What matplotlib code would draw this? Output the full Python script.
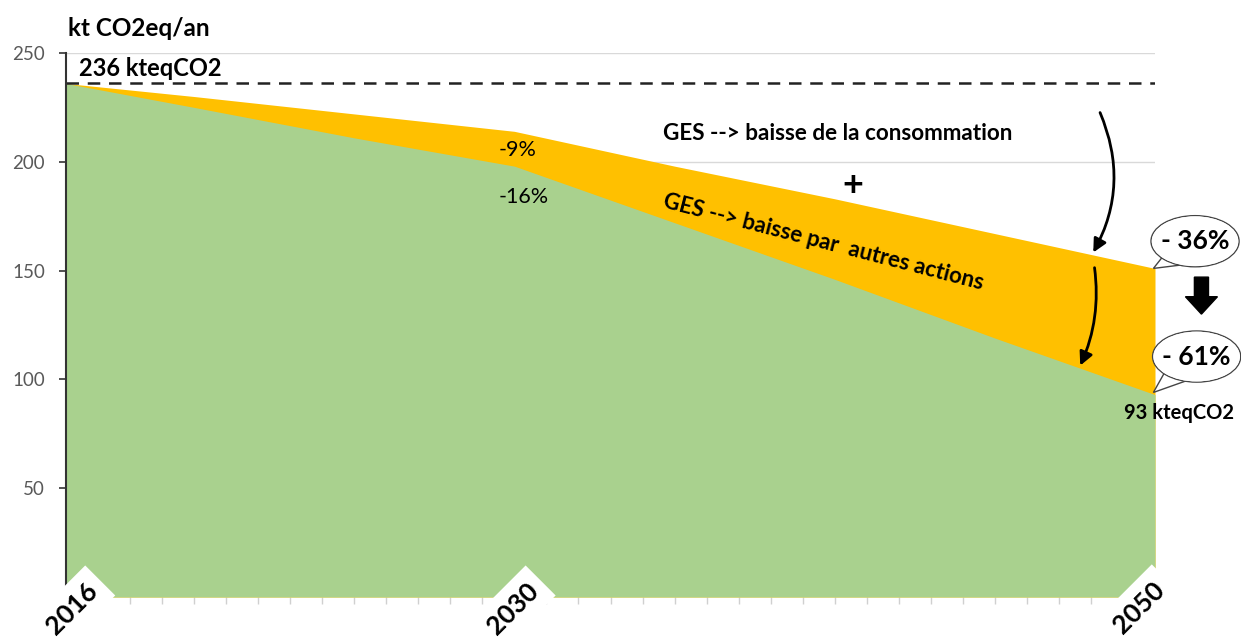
import matplotlib
matplotlib.use('Agg')
import matplotlib.pyplot as plt
from matplotlib.patches import Ellipse, Polygon, FancyArrow, FancyArrowPatch
import numpy as np

plt.rcParams['font.family'] = ['Lato', 'DejaVu Sans']

# values (kt CO2eq per year)
years = [2016, 2020, 2025, 2030, 2035, 2040, 2045, 2050]
total = [236, 230, 222, 214, 198, 183, 167, 151]     # after reduced consumption
other = [236, 225, 211, 198, 172, 146, 119, 93]      # after other actions too
label_years = [2016, 2030, 2050]
yticks = [50, 100, 150, 200, 250]

GREEN = '#A9D18E'
ORANGE = '#FFC000'

#_____________________________________________________________________________
fig = plt.figure(figsize=(12.41, 6.40), dpi=100)
ax = fig.add_axes([66/1241, 1 - 597/640, (1155-66)/1241, (597-53)/640])

ax.fill_between(years, 0, total, color=ORANGE, lw=0, zorder=2)
ax.fill_between(years, 0, other, color=GREEN, lw=0, zorder=3)
ax.plot([2016, 2050], [total[0], total[0]], ls=(0, (5, 3.5)), color='#222222', lw=1.8, zorder=4)

ax.set_xlim(2016, 2050)
ax.set_ylim(0, 250)
ax.set_yticks(yticks)
ax.set_yticklabels([str(v) for v in yticks], color='#595959', fontsize=13.5)
ax.tick_params(axis='y', length=5, width=1.2, color='#333333', pad=10)
ax.set_xticks(range(2016, 2051))
ax.set_xticklabels([])
ax.tick_params(axis='x', length=5, color='#d0d0d0', width=1)
ax.yaxis.grid(True, color='#d9d9d9', lw=1, zorder=1)
ax.set_axisbelow(True)
for s in ['top', 'right']:
    ax.spines[s].set_visible(False)
ax.spines['bottom'].set_visible(False)
ax.spines['left'].set_color('#333333')
ax.spines['left'].set_linewidth(1.5)
ax.spines['left'].set_zorder(5)

# rotated year labels with white boxes cutting into the area
label_shift = {2016: (0.6, 8.5), 2030: (0.35, 8.5), 2050: (-0.1, 9)}
for yr in label_years:
    dx, yy = label_shift[yr]
    ax.text(yr + dx, yy, str(yr), rotation=45, rotation_mode='anchor',
            ha='right', va='top', fontsize=19, fontweight='bold', color='black',
            bbox=dict(boxstyle='square,pad=0.35', fc='white', ec='none'),
            zorder=6, clip_on=False)

# texts
fig.text(68/1241, 1 - 28/640, 'kt CO2eq/an', fontsize=17.5, fontweight='bold', va='center')
ax.text(2016.4, 243, '236 kteqCO2', fontsize=17, fontweight='bold', va='center', zorder=6)
ax.text(2029.5, 205.5, '-9%', fontsize=15.5, va='center', zorder=6)
ax.text(2029.5, 184, '-16%', fontsize=15.5, va='center', zorder=6)
ax.text(2040.1, 212.8, 'GES --> baisse de la consommation', fontsize=16.2,
        fontweight='bold', va='center', ha='center', zorder=6)
ax.text(2040.55, 189.3, '+', fontsize=26, fontweight='bold', va='center', ha='center', zorder=6)
ax.text(2039.66, 163.1, 'GES --> baisse par  autres actions', fontsize=16,
        fontweight='bold', va='center', ha='center', rotation=-14.5,
        rotation_mode='anchor', zorder=6)
ax.text(2050.75, 84.5, '93 kteqCO2', fontsize=14.5, fontweight='bold', va='center',
        ha='center', zorder=6, clip_on=False)

# curved arrows
arr1 = FancyArrowPatch((2048.25, 223.8), (2048.03, 157.2), connectionstyle='arc3,rad=-0.25',
                       arrowstyle='-|>,head_length=8,head_width=4', lw=2, color='black',
                       zorder=7)
ax.add_patch(arr1)
arr2 = FancyArrowPatch((2048.1, 152.6), (2047.63, 105.2), connectionstyle='arc3,rad=-0.15',
                       arrowstyle='-|>,head_length=8,head_width=4', lw=2, color='black',
                       zorder=7)
ax.add_patch(arr2)

# speech bubbles
def bubble(cx, cy, tip, text):
    tail = Polygon([(cx - 0.95, cy - 6), tip, (cx - 0.2, cy - 10.5)], closed=True,
                   fc='white', ec='#444444', lw=1, zorder=7, clip_on=False)
    ax.add_patch(tail)
    ell = Ellipse((cx, cy), 2.75, 23.5, fc='white', ec='#444444', lw=1, zorder=8, clip_on=False)
    ax.add_patch(ell)
    ell2 = Ellipse((cx, cy), 2.7, 22.9, fc='white', ec='none', zorder=9, clip_on=False)
    ax.add_patch(ell2)
    ax.text(cx, cy, text, fontsize=19, fontweight='bold', ha='center', va='center',
            zorder=10, clip_on=False)

bubble(2051.25, 163.5, (2049.95, 151), '- 36%')
bubble(2051.3, 110.5, (2049.95, 94), '- 61%')

ax.add_patch(FancyArrow(2051.45, 147, 0, -17, width=0.44, head_width=1.0, head_length=8,
                        length_includes_head=True, fc='black', ec='black', zorder=8,
                        clip_on=False))

fig.savefig('out.png', dpi=100)
